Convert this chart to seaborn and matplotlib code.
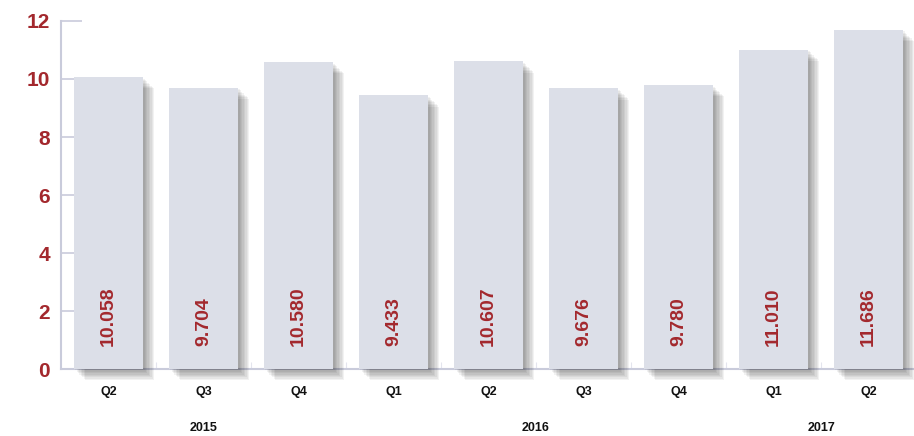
# Quarterly values, Q2 2015 - Q2 2017
import pandas as pd
import seaborn as sns
import matplotlib.pyplot as plt
import matplotlib.patheffects as pe
import matplotlib.transforms as mtransforms

quarters = ['Q2', 'Q3', 'Q4', 'Q1', 'Q2', 'Q3', 'Q4', 'Q1', 'Q2']
years = ['2015', '2015', '2015', '2016', '2016', '2016', '2016', '2017', '2017']
values = [10.058, 9.704, 10.580, 9.433, 10.607, 9.676, 9.780, 11.010, 11.686]
yticks = [0, 2, 4, 6, 8, 10, 12]

red = '#a3282d'
bar_color = '#dcdfe8'
axis_color = '#c9cbdb'

sns.set_style('white')
plt.rcParams['font.family'] = ['Liberation Sans', 'DejaVu Sans']

df = pd.DataFrame({'pos': range(len(values)), 'value': values})

fig = plt.figure(figsize=(9.14, 4.36), dpi=100)
ax = fig.add_axes([61 / 914, 67 / 436, 855 / 914, 348 / 436])

sns.barplot(data=df, x='pos', y='value', color=bar_color, width=0.73,
            saturation=1, linewidth=0, ax=ax, zorder=3)

# soft drop shadow on the bars (stacked faint copies)
shadow = [pe.SimplePatchShadow(offset=(k, -k), shadow_rgbFace='#000000', alpha=0.05)
          for k in (8, 7, 6, 5, 4, 3, 2, 1)]
for p in ax.patches:
    p.set_path_effects(shadow + [pe.Normal()])
    p.set_clip_on(False)

for i, v in enumerate(values):
    ax.text(i, 0.78, f'{v:.3f}', rotation=90, ha='center', va='bottom',
            color=red, fontsize=14, fontweight='bold', zorder=5)

ax.set_ylim(0, 12)
ax.set_xlim(-0.5, len(values) - 0.5)
ax.set_yticks(yticks)
ax.set_yticklabels([str(t) for t in yticks], color=red, fontsize=15,
                   fontweight='bold')
ax.set_xticks(range(len(values)))
ax.set_xticklabels(quarters, fontsize=9, fontweight='bold', color='#111111')
ax.set_xticks([i + 0.5 for i in range(len(values) - 1)], minor=True)

ax.tick_params(axis='y', direction='in', length=15, width=1.2,
               color=axis_color, pad=8, left=True)
ax.tick_params(axis='x', which='major', length=0, pad=12)
ax.tick_params(axis='x', which='minor', direction='in', length=5, width=0.8,
               color='#e4e5ee', bottom=True)

for side in ['top', 'right']:
    ax.spines[side].set_visible(False)
for side in ['left', 'bottom']:
    ax.spines[side].set_color(axis_color)
    ax.spines[side].set_linewidth(1.5)
ax.set_xlabel('')
ax.set_ylabel('')

# year labels under each group
trans = mtransforms.blended_transform_factory(ax.transData, fig.transFigure)
for yr in ['2015', '2016', '2017']:
    idx = [i for i, y in enumerate(years) if y == yr]
    ax.text(sum(idx) / len(idx), 1 - 428 / 436, yr, ha='center', va='center',
            fontsize=9, fontweight='bold', color='#111111', transform=trans)

fig.savefig('out.png', dpi=100)
